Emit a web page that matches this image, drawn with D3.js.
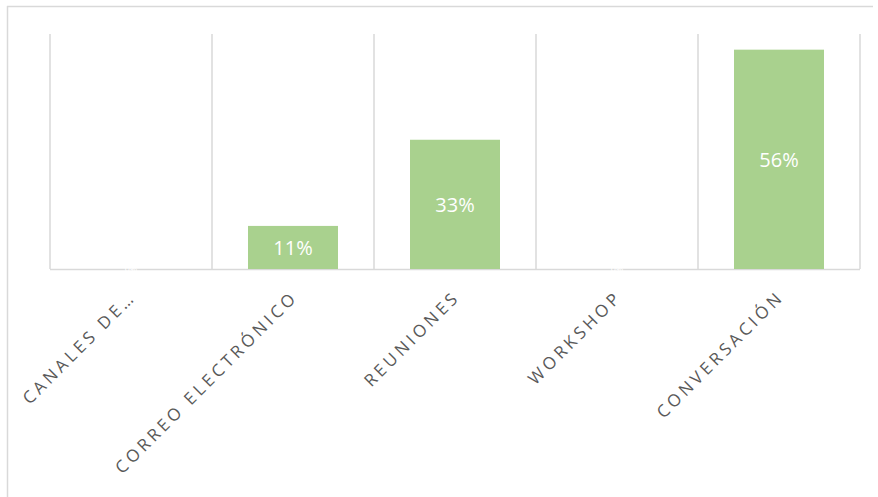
<!DOCTYPE html>
<html>
<head>
<meta charset="utf-8">
<script src="https://cdn.jsdelivr.net/npm/d3@7"></script>
<style>
  html, body { margin: 0; padding: 0; background: #fff; }
  svg { display: block; }
</style>
</head>
<body>
<svg id="chart" width="878" height="497"></svg>
<script>
// Share of responses per communication channel
const categories = ["CANALES DE…", "CORREO ELECTRÓNICO", "REUNIONES", "WORKSHOP", "CONVERSACIÓN"];
const values = [0, 0.11, 0.33, 0, 0.56];
const valueLabels = ["0%", "11%", "33%", "0%", "56%"];

const svg = d3.select("#chart");
const W = 878, H = 497;
const plot = { left: 50, right: 860, top: 34, bottom: 269 };

// Chart frame (top and left edges)
svg.append("line").attr("x1", 7).attr("x2", 873).attr("y1", 6.5).attr("y2", 6.5)
  .attr("stroke", "#d9d9d9").attr("stroke-width", 1.5);
svg.append("line").attr("x1", 7.5).attr("x2", 7.5).attr("y1", 6).attr("y2", H)
  .attr("stroke", "#d9d9d9").attr("stroke-width", 1.5);

const x = d3.scaleBand().domain(categories).range([plot.left, plot.right]).paddingInner(0).paddingOuter(0);
const y = d3.scaleLinear().domain([0, 0.6]).range([plot.bottom, plot.top]);

// Vertical gridlines at category boundaries
const bounds = categories.map(c => x(c)).concat([x(categories[categories.length - 1]) + x.bandwidth()]);
svg.append("g").selectAll("line").data(bounds).join("line")
  .attr("x1", d => d).attr("x2", d => d)
  .attr("y1", plot.top).attr("y2", plot.bottom)
  .attr("stroke", "#d9d9d9").attr("stroke-width", 1.5);

// Baseline
svg.append("line").attr("x1", plot.left).attr("x2", plot.right)
  .attr("y1", plot.bottom + 0.5).attr("y2", plot.bottom + 0.5)
  .attr("stroke", "#d9d9d9").attr("stroke-width", 1.5);

// Bars
const barW = 90;
const data = categories.map((c, i) => ({ c, v: values[i], label: valueLabels[i] }));
svg.append("g").selectAll("rect").data(data).join("rect")
  .attr("x", d => x(d.c) + x.bandwidth() / 2 - barW / 2)
  .attr("width", barW)
  .attr("y", d => y(d.v))
  .attr("height", d => y(0) - y(d.v))
  .attr("fill", "#a9d18e");

// Value labels centred in each bar
svg.append("g").selectAll("text").data(data).join("text")
  .attr("x", d => x(d.c) + x.bandwidth() / 2)
  .attr("y", d => (y(d.v) + y(0)) / 2)
  .attr("dy", "0.36em")
  .attr("text-anchor", "middle")
  .style("font-family", "'Open Sans', sans-serif")
  .style("font-size", d => d.v > 0 ? "20px" : "9px")
  .attr("fill", "#ffffff")
  .text(d => d.label);

// Category axis labels, rotated
const axis = d3.axisBottom(x).tickSize(0).tickPadding(0);
const gx = svg.append("g").attr("transform", `translate(0,${plot.bottom})`).call(axis);
gx.select(".domain").remove();
gx.selectAll(".tick text")
  .style("font-family", "'Open Sans', sans-serif")
  .style("font-size", "17px")
  .style("letter-spacing", "3.6px")
  .attr("fill", "#595959")
  .attr("text-anchor", "end")
  .attr("dy", 0)
  .attr("transform", "translate(6,29) rotate(-45)");
</script>
</body>
</html>
